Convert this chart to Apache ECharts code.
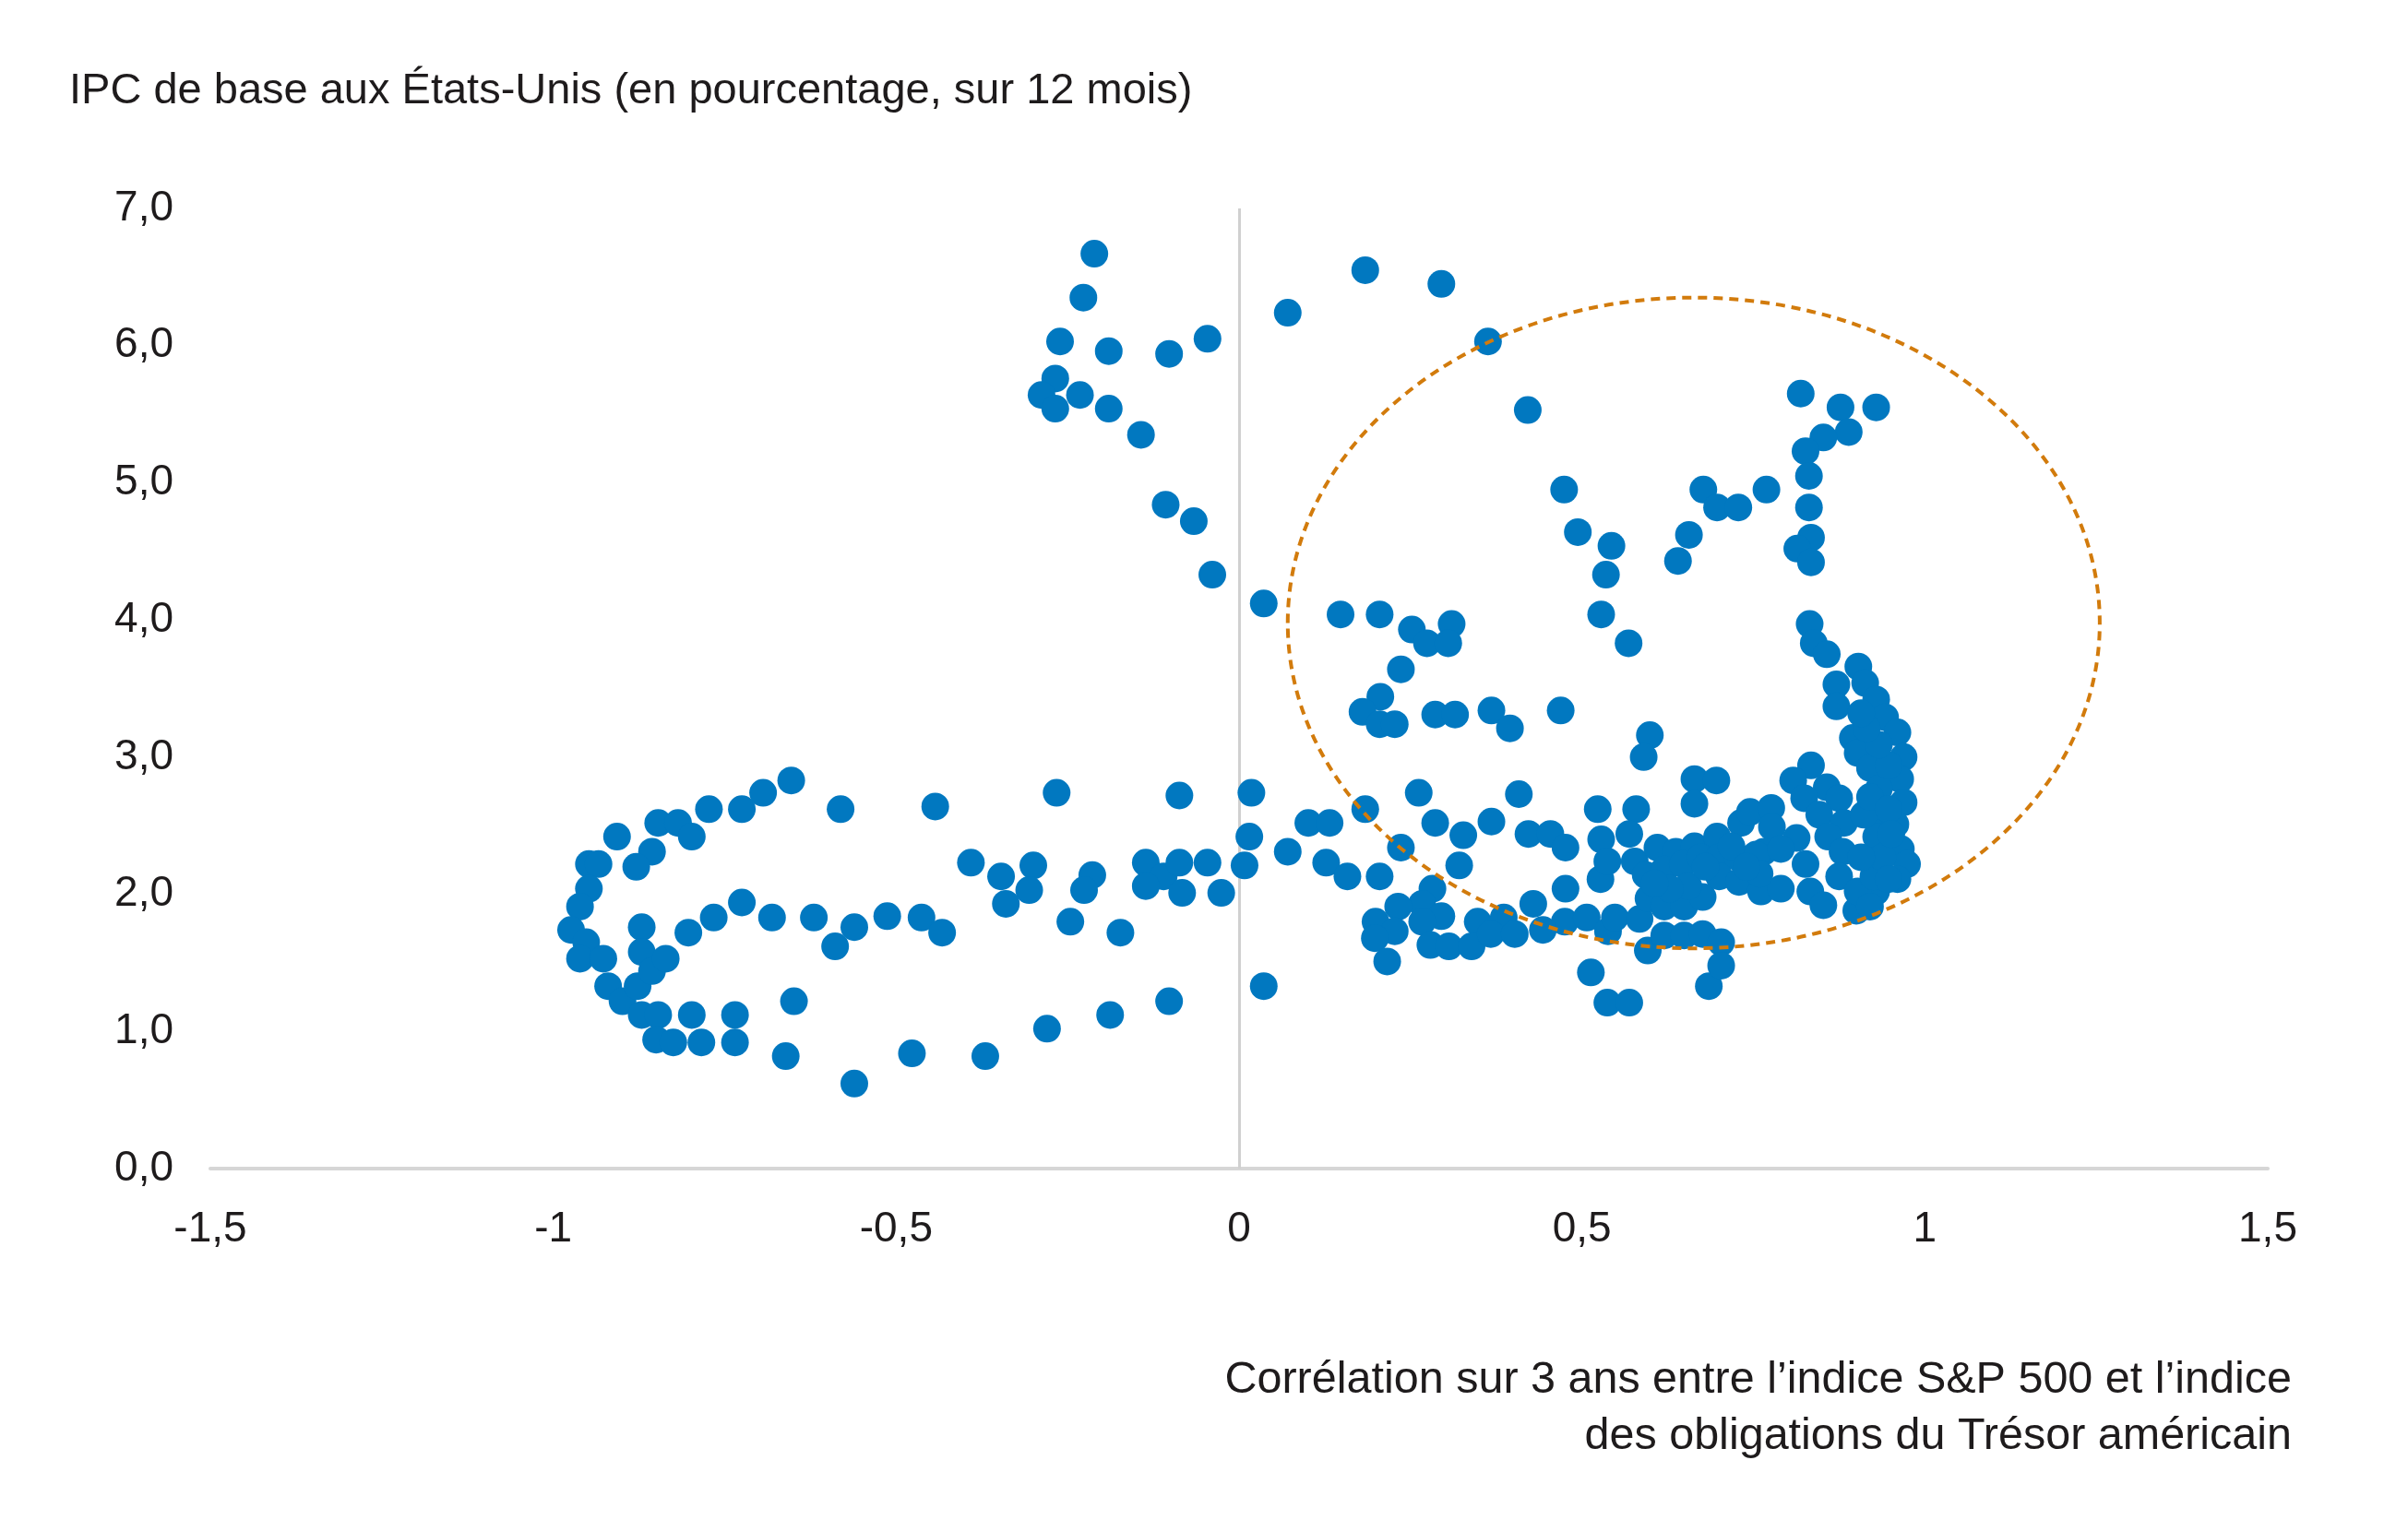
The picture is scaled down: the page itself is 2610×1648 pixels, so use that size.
<!DOCTYPE html>
<html>
<head>
<meta charset="utf-8">
<script src="https://cdn.jsdelivr.net/npm/echarts@6/dist/echarts.min.js"></script>
<style>
html,body{margin:0;padding:0;background:#ffffff;}
#chart{width:2610px;height:1648px;}
</style>
</head>
<body>
<div id="chart"></div>
<script>
// ---------- DATA (x = 3-year correlation, y = US core CPI y/y %) ----------
const yAxisTitle = 'IPC de base aux États-Unis (en pourcentage, sur 12 mois)';
const xAxisTitle = 'Corrélation sur 3 ans entre l’indice S&P 500 et l’indice\ndes obligations du Trésor américain';

const xTickValues = [-1.5, -1, -0.5, 0, 0.5, 1, 1.5];
const yTickValues = [0, 1, 2, 3, 4, 5, 6, 7];

const loopPoints = [
  [-0.653,2.83],[-0.694,2.74],[-0.725,2.62],[-0.773,2.62],[-0.581,2.62],[-0.443,2.64],
  [-0.847,2.52],[-0.818,2.52],[-0.798,2.42],[-0.907,2.42],[-0.856,2.31],[-0.879,2.20],
  [-0.948,2.22],[-0.934,2.22],[-0.948,2.04],[-0.961,1.91],[-0.974,1.74],[-0.952,1.65],
  [-0.961,1.53],[-0.927,1.53],[-0.920,1.33],[-0.899,1.22],[-0.877,1.33],[-0.871,1.76],
  [-0.871,1.58],[-0.856,1.44],[-0.836,1.53],[-0.871,1.12],[-0.847,1.12],[-0.798,1.12],
  [-0.735,1.12],[-0.850,0.94],[-0.825,0.92],[-0.784,0.92],[-0.735,0.92],[-0.661,0.82],
  [-0.649,1.22],[-0.561,0.62],[-0.477,0.84],[-0.370,0.82],[-0.803,1.72],[-0.766,1.83],
  [-0.725,1.94],[-0.681,1.83],[-0.620,1.83],[-0.561,1.76],[-0.589,1.62],[-0.513,1.84],
  [-0.463,1.83],[-0.433,1.72],[-0.391,2.23]
];

const middlePoints = [
  [-0.266,2.74],[-0.087,2.72],[0.018,2.74],[-0.347,2.13],[-0.300,2.21],[-0.306,2.03],
  [-0.340,1.93],[-0.214,2.14],[-0.226,2.03],[-0.246,1.80],[-0.173,1.72],[-0.136,2.23],
  [-0.110,2.13],[-0.136,2.06],[-0.087,2.23],[-0.083,2.01],[-0.046,2.23],[-0.026,2.01],
  [0.008,2.21],[0.015,2.42],[0.071,2.31],[0.101,2.52],[0.132,2.52],[0.184,2.62],
  [0.262,2.74],[0.286,2.52],[0.127,2.23],[0.158,2.13],[0.205,2.13],[0.236,2.34],
  [0.036,1.33],[-0.102,1.22],[-0.188,1.12],[-0.280,1.02],
  [0.282,2.04],[0.267,1.93],[0.232,1.91],[0.199,1.80],[0.227,1.73],[0.198,1.68],
  [0.216,1.51],[0.295,1.84],[0.267,1.80],[0.279,1.63],[0.306,1.62]
];

const highPoints = [
  [-0.211,6.67],[-0.227,6.35],[-0.261,6.03],[-0.190,5.96],[-0.102,5.94],[-0.046,6.05],
  [-0.268,5.76],[-0.288,5.64],[-0.232,5.64],[-0.268,5.54],[-0.190,5.54],[-0.143,5.35],
  [-0.107,4.84],[-0.066,4.72],[-0.039,4.33],[0.036,4.12],[0.071,6.24],[0.184,6.55],
  [0.295,6.45],[0.363,6.03]
];

const upperRightPoints = [
  [0.148,4.04],[0.205,4.04],[0.252,3.93],[0.274,3.83],[0.310,3.97],[0.305,3.83],
  [0.236,3.64],[0.206,3.44],[0.180,3.33],[0.205,3.24],[0.227,3.24],[0.286,3.31],
  [0.315,3.31],[0.368,3.34],[0.395,3.21],[0.469,3.34],
  [0.421,5.53],[0.819,5.65],[0.877,5.55],[0.929,5.55],[0.889,5.37],[0.852,5.33],
  [0.826,5.23],[0.831,5.05],[0.831,4.82],[0.834,4.60],[0.814,4.52],[0.834,4.42],
  [0.474,4.95],[0.494,4.64],[0.543,4.54],[0.535,4.33],[0.528,4.04],[0.568,3.83],
  [0.677,4.95],[0.697,4.82],[0.728,4.82],[0.769,4.95],[0.656,4.62],[0.640,4.43],
  [0.832,3.97],[0.838,3.83],[0.857,3.75],[0.599,3.16],[0.590,3.00]
];

const lowerRightPoints = [
  [0.408,2.73],[0.327,2.43],[0.368,2.53],[0.422,2.44],[0.454,2.44],[0.476,2.34],
  [0.321,2.21],[0.476,2.04],[0.429,1.93],[0.348,1.80],[0.386,1.83],[0.475,1.80],
  [0.339,1.62],[0.367,1.71],[0.402,1.71],[0.443,1.74],[0.507,1.83],[0.538,1.73],
  [0.548,1.83],[0.527,2.11],[0.584,1.82],[0.596,1.59],[0.513,1.43],[0.537,1.21],
  [0.569,1.21],[0.620,1.70],[0.649,1.70],[0.676,1.71],[0.685,1.33],
  [0.664,2.84],[0.696,2.83],[0.664,2.66],[0.523,2.62],[0.579,2.62],
  [0.569,2.44],[0.528,2.40],[0.537,2.24],[0.577,2.24],[0.610,2.34],[0.637,2.31],
  [0.664,2.35],[0.697,2.42],[0.732,2.52],[0.745,2.60],[0.776,2.63],[0.777,2.49],
  [0.813,2.41],[0.765,2.31],[0.703,1.65],[0.703,1.48],
  [0.593,2.14],[0.620,2.18],[0.647,2.22],[0.673,2.27],[0.700,2.27],[0.727,2.27],
  [0.754,2.29],[0.790,2.33],[0.597,1.97],[0.620,1.91],[0.649,1.91],[0.676,1.98],
  [0.655,2.06],[0.628,2.04],[0.700,2.13],[0.729,2.09],[0.761,2.02],[0.790,2.04],
  [0.759,2.15],[0.606,2.08],[0.718,2.35],[0.680,2.20],[0.740,2.20]
];

const denseColumnPoints = [
  [0.834,2.94],[0.808,2.83],[0.826,2.22],[0.833,2.02],[0.852,1.92],
  [0.903,3.66],[0.871,3.53],[0.913,3.54],[0.871,3.37],[0.929,3.42],[0.942,3.29],
  [0.960,3.18],[0.895,3.14],[0.902,3.03],[0.969,3.00],[0.920,2.92],[0.964,2.84],
  [0.933,2.77],[0.969,2.67],[0.927,2.58],[0.957,2.51],[0.929,2.42],[0.965,2.33],
  [0.974,2.22],[0.960,2.11],[0.929,2.02],[0.900,1.88],[0.857,2.78],[0.875,2.70],
  [0.824,2.70],[0.846,2.58],[0.882,2.52],[0.859,2.42],[0.880,2.31],[0.875,2.13],
  [0.902,2.02],[0.925,2.13],[0.938,2.27],[0.907,2.27],[0.911,2.58],[0.920,2.71],
  [0.947,2.62],[0.947,2.94],[0.933,3.09],[0.915,3.21],[0.907,3.32],[0.951,2.44],
  [0.947,2.11],[0.920,1.91]
];

// highlighted region (data units): centre x, centre y, radius x, radius y
const highlightEllipse = [0.663, 3.978, 0.592, 2.372];

// ---------- CHART ----------
const allPoints = [].concat(loopPoints, middlePoints, highPoints, upperRightPoints, lowerRightPoints, denseColumnPoints);

const FONT = '"Liberation Sans", Arial, sans-serif';
const TEXT = '#1e1b1c';
const comma = v => String(v).replace('.', ',');

const chart = echarts.init(document.getElementById('chart'), null, { renderer: 'canvas' });

chart.setOption({
  animation: false,
  backgroundColor: '#ffffff',
  grid: { left: 228, right: 152, top: 226, bottom: 381, containLabel: false },
  xAxis: {
    type: 'value',
    min: xTickValues[0],
    max: xTickValues[xTickValues.length - 1],
    interval: 0.5,
    axisLine: { show: true, onZero: false, lineStyle: { color: '#d6d6d6', width: 4 } },
    axisTick: { show: false },
    splitLine: { show: false },
    axisLabel: {
      fontFamily: FONT, fontSize: 46, color: TEXT, margin: 43,
      formatter: v => comma(v)
    }
  },
  yAxis: {
    type: 'value',
    min: yTickValues[0],
    max: yTickValues[yTickValues.length - 1],
    interval: 1,
    axisLine: { show: false },
    axisTick: { show: false },
    splitLine: { show: false },
    axisLabel: {
      fontFamily: FONT, fontSize: 46, color: TEXT, margin: 40,
      formatter: v => v.toFixed(1).replace('.', ',')
    }
  },
  graphic: [
    {
      type: 'text',
      style: {
        text: yAxisTitle, x: 75, y: 99, font: '47px ' + FONT, fill: TEXT,
        align: 'left', verticalAlign: 'middle', textAlign: 'left', textVerticalAlign: 'middle'
      }
    },
    {
      type: 'text',
      style: {
        text: xAxisTitle, x: 2484, y: 1466, font: '48.5px ' + FONT, fill: TEXT, lineHeight: 61,
        align: 'right', verticalAlign: 'top', textAlign: 'right', textVerticalAlign: 'top'
      }
    }
  ],
  series: [
    {
      type: 'scatter',
      data: [],
      z: 1,
      silent: true,
      markLine: {
        silent: true,
        z: 1,
        symbol: ['none', 'none'],
        label: { show: false },
        lineStyle: { color: '#d0d0d0', width: 3, type: 'solid' },
        data: [{ xAxis: 0 }]
      }
    },
    {
      type: 'scatter',
      z: 3,
      symbol: 'circle',
      symbolSize: 30,
      itemStyle: { color: '#0178c0', opacity: 1 },
      data: allPoints
    },
    {
      type: 'custom',
      z: 10,
      silent: true,
      data: [highlightEllipse],
      renderItem: function (params, api) {
        const c = api.coord([api.value(0), api.value(1)]);
        const s = api.size([api.value(2) * 2, api.value(3) * 2]);
        return {
          type: 'ellipse',
          shape: { cx: c[0], cy: c[1], rx: s[0] / 2, ry: s[1] / 2 },
          style: { fill: 'none', stroke: '#d27b0c', lineWidth: 4, lineDash: [10, 7] }
        };
      }
    }
  ]
});
</script>
</body>
</html>
